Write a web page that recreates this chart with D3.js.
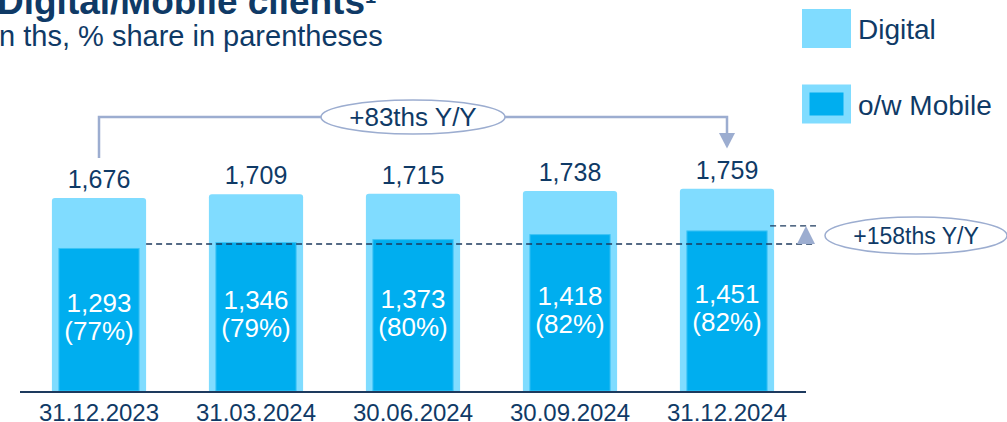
<!DOCTYPE html>
<html>
<head>
<meta charset="utf-8">
<script src="https://cdn.jsdelivr.net/npm/d3@7/dist/d3.min.js"></script>
<style>
  html, body { margin: 0; padding: 0; background: #ffffff; }
  svg { display: block; font-family: "Liberation Sans", Arial, sans-serif; }
</style>
</head>
<body>
<svg id="chart" width="1007" height="422"></svg>
<script>
// Quarter-end dates
const categories = ["31.12.2023", "31.03.2024", "30.06.2024", "30.09.2024", "31.12.2024"];
// Digital clients, ths
const digital = [1676, 1709, 1715, 1738, 1759];
// of which Mobile clients, ths
const mobile = [1293, 1346, 1373, 1418, 1451];
// Mobile share of Digital, %
const mobileShare = [77, 79, 80, 82, 82];

const navy = "#0f3a66";
const lightCyan = "#80dcff";
const cyan = "#00aeef";
const annot = "#9cadd0";

const svg = d3.select("#chart");
const fmt = d3.format(",");

const x = d3.scaleBand()
  .domain(categories)
  .range([20.5, 805.5])
  .paddingInner(0.4)
  .paddingOuter(0.2);

const y = d3.scaleLinear()
  .domain([0, 1800])
  .range([392, 192.2]);

const innerInset = 7;   // mobile bar sits inside the digital bar
const framePad = 8;     // digital frame rises a little above its value

// Title and subtitle
svg.append("text")
  .attr("x", -3).attr("y", 14)
  .attr("font-size", 37).attr("font-weight", "bold")
  .attr("fill", navy)
  .text("Digital/Mobile clients");
svg.append("text")
  .attr("x", 365).attr("y", 3)
  .attr("font-size", 20).attr("font-weight", "bold")
  .attr("fill", navy)
  .text("1");
svg.append("text")
  .attr("x", -9).attr("y", 46)
  .attr("font-size", 29)
  .attr("fill", navy)
  .text("In ths, % share in parentheses");

// Bars
const g = svg.append("g");
const groups = g.selectAll("g.bar")
  .data(categories.map((c, i) => ({ c, d: digital[i], m: mobile[i], s: mobileShare[i] })))
  .join("g").attr("class", "bar");

groups.append("rect")
  .attr("x", d => x(d.c))
  .attr("y", d => y(d.d) - framePad)
  .attr("width", x.bandwidth())
  .attr("height", d => y(0) + 1 - (y(d.d) - framePad))
  .attr("rx", 3)
  .attr("fill", lightCyan);

groups.append("rect")
  .attr("x", d => x(d.c) + innerInset)
  .attr("y", d => y(d.m))
  .attr("width", x.bandwidth() - 2 * innerInset)
  .attr("height", d => y(0) - 1 - y(d.m))
  .attr("fill", cyan)
  .attr("stroke", "#3cc4f5")
  .attr("stroke-width", 1);

// Digital totals above bars
groups.append("text")
  .attr("x", d => x(d.c) + x.bandwidth() / 2)
  .attr("y", d => y(d.d) - framePad - 10)
  .attr("text-anchor", "middle")
  .attr("font-size", 25)
  .attr("fill", navy)
  .text(d => fmt(d.d));

// Mobile values with share, centred in the inner bar
const inner = groups.append("text")
  .attr("text-anchor", "middle")
  .attr("font-size", 26)
  .attr("fill", "#ffffff");
inner.append("tspan")
  .attr("x", d => x(d.c) + x.bandwidth() / 2)
  .attr("y", d => (y(d.m) + y(0)) / 2 - 8)
  .text(d => fmt(d.m));
inner.append("tspan")
  .attr("x", d => x(d.c) + x.bandwidth() / 2)
  .attr("y", d => (y(d.m) + y(0)) / 2 + 20)
  .text(d => "(" + d.s + "%)");

// Category axis
const axis = svg.append("g")
  .attr("transform", `translate(0,${y(0)})`)
  .call(d3.axisBottom(x).tickSize(0).tickPadding(12));
axis.select(".domain")
  .attr("d", "M20,0H806")
  .attr("stroke", "#1d3a5e")
  .attr("stroke-width", 2);
axis.selectAll("text")
  .attr("font-family", "Liberation Sans, Arial, sans-serif")
  .attr("font-size", 24)
  .attr("fill", navy)
  .attr("dy", "0.71em");

// Y/Y change of Digital: bracket from first to last bar
const first = categories[0], last = categories[categories.length - 1];
const cx0 = x(first) + x.bandwidth() / 2;
const cx1 = x(last) + x.bandwidth() / 2;
const bracketY = 117;
const topEll = { cx: 413, cy: 117, rx: 92, ry: 17 };

svg.append("path")
  .attr("d", `M${cx0},158V${bracketY}H${topEll.cx - topEll.rx}`)
  .attr("fill", "none").attr("stroke", annot).attr("stroke-width", 2.5);
svg.append("path")
  .attr("d", `M${topEll.cx + topEll.rx},${bracketY}H${cx1}V134`)
  .attr("fill", "none").attr("stroke", annot).attr("stroke-width", 2.5);
svg.append("path")
  .attr("d", `M${cx1 - 8},133L${cx1 + 8},133L${cx1},148.5Z`)
  .attr("fill", annot);
svg.append("ellipse")
  .attr("cx", topEll.cx).attr("cy", topEll.cy)
  .attr("rx", topEll.rx).attr("ry", topEll.ry)
  .attr("fill", "#ffffff").attr("stroke", annot).attr("stroke-width", 1.5);
svg.append("text")
  .attr("x", topEll.cx).attr("y", topEll.cy + 9)
  .attr("text-anchor", "middle")
  .attr("font-size", 26).attr("fill", navy)
  .text("+" + (digital[digital.length - 1] - digital[0]) + "ths Y/Y");

// Y/Y change of Mobile: dashed reference levels and arrow
const lowY = y(mobile[0]) - 4.5;
const highY = y(mobile[mobile.length - 1]) - 5;
svg.append("line")
  .attr("x1", x(first) + x.bandwidth()).attr("x2", 816)
  .attr("y1", lowY).attr("y2", lowY)
  .attr("stroke", "#1d3a5e").attr("stroke-width", 1.3)
  .attr("stroke-dasharray", "6,4");
svg.append("line")
  .attr("x1", x(last) + x.bandwidth() - 4).attr("x2", 816)
  .attr("y1", highY).attr("y2", highY)
  .attr("stroke", "#1d3a5e").attr("stroke-width", 1.3)
  .attr("stroke-dasharray", "6,4");
svg.append("path")
  .attr("d", `M797,${lowY}L815,${lowY}L806,${highY}Z`)
  .attr("fill", annot);
const rEll = { cx: 916, cy: 235.5, rx: 91, ry: 18.5 };
svg.append("ellipse")
  .attr("cx", rEll.cx).attr("cy", rEll.cy)
  .attr("rx", rEll.rx).attr("ry", rEll.ry)
  .attr("fill", "#ffffff").attr("stroke", annot).attr("stroke-width", 1.5);
svg.append("text")
  .attr("x", rEll.cx).attr("y", rEll.cy + 8)
  .attr("text-anchor", "middle")
  .attr("font-size", 23).attr("fill", navy)
  .text("+" + (mobile[mobile.length - 1] - mobile[0]) + "ths Y/Y");

// Legend
const legend = svg.append("g");
legend.append("rect")
  .attr("x", 802).attr("y", 9).attr("width", 49).attr("height", 39)
  .attr("fill", lightCyan);
legend.append("text")
  .attr("x", 858).attr("y", 39)
  .attr("font-size", 28).attr("fill", navy)
  .text("Digital");
legend.append("rect")
  .attr("x", 802).attr("y", 84.5).attr("width", 49).attr("height", 39)
  .attr("fill", lightCyan);
legend.append("rect")
  .attr("x", 809.5).attr("y", 92.5).attr("width", 34).attr("height", 23)
  .attr("fill", cyan);
legend.append("text")
  .attr("x", 858).attr("y", 115)
  .attr("font-size", 28).attr("fill", navy)
  .text("o/w Mobile");
</script>
</body>
</html>
